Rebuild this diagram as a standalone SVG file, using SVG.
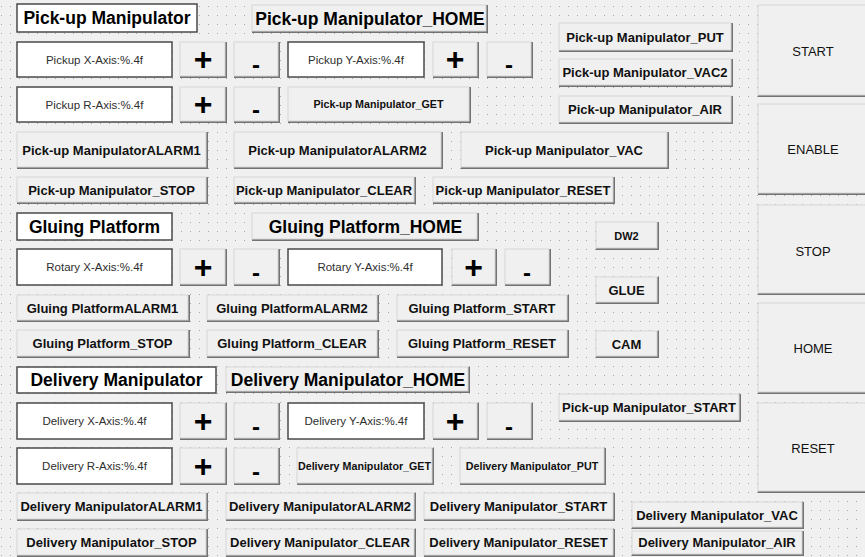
<svg xmlns="http://www.w3.org/2000/svg" width="865" height="557" viewBox="0 0 865 557">
<defs>
<pattern id="dots" x="1" y="6" width="9" height="9" patternUnits="userSpaceOnUse"><rect width="1" height="1" fill="#a8a8a8"/></pattern>
</defs>
<style>
.s{fill:#737373}
.f{fill:#f0f0f0;stroke:#d6d6d6;stroke-width:1}
.lb{fill:#fff;stroke:#4a4a4a;stroke-width:1.5}
.ed{fill:#fff;stroke:#4a4a4a;stroke-width:1.5}
text{font-family:"Liberation Sans",Arial,sans-serif;text-anchor:middle;fill:#000}
.t17{font-size:17.5px;font-weight:bold}
.t13{font-size:13px;font-weight:bold;fill:#111}
.t11{font-size:11px;font-weight:bold;fill:#111}
.tg{font-size:10.7px;font-weight:bold;fill:#111}
.te{font-size:11.5px;fill:#2e2e2e}
.tb{font-size:13px;fill:#111}
.tp{font-size:32px;font-weight:bold}
.tm{font-size:24px;font-weight:bold}
</style>
<rect width="865" height="557" fill="#f0f0f0"/>
<rect width="865" height="557" fill="url(#dots)"/>

<!-- Section labels -->
<g id="lbl_pickup"><rect class="lb" x="17" y="4" width="180" height="28"/><text class="t17" x="107" y="24">Pick-up Manipulator</text></g>
<g id="lbl_gluing"><rect class="lb" x="17" y="213" width="155" height="27"/><text class="t17" x="94.5" y="232.5">Gluing Platform</text></g>
<g id="lbl_delivery"><rect class="lb" x="17" y="367" width="199" height="26"/><text class="t17" x="116.5" y="386">Delivery Manipulator</text></g>

<!-- HOME buttons -->
<g id="btn_pick_home"><rect class="s" x="252" y="5" width="236" height="28"/><rect class="f" x="252" y="5" width="234" height="26"/><text class="t17" x="370" y="25">Pick-up Manipulator_HOME</text></g>
<g id="btn_glue_home"><rect class="s" x="252" y="213" width="227" height="28"/><rect class="f" x="252" y="213" width="225" height="26"/><text class="t17" x="365.5" y="233">Gluing Platform_HOME</text></g>
<g id="btn_del_home"><rect class="s" x="226" y="367" width="244" height="26"/><rect class="f" x="226" y="367" width="242" height="24"/><text class="t17" x="348" y="386">Delivery Manipulator_HOME</text></g>

<!-- Edit boxes -->
<g id="ed_pick_x"><rect class="ed" x="17" y="42" width="155" height="35"/><text class="te" x="94.5" y="63.5">Pickup X-Axis:%.4f</text></g>
<g id="ed_pick_y"><rect class="ed" x="288" y="42" width="136" height="35"/><text class="te" x="356" y="63.5">Pickup Y-Axis:%.4f</text></g>
<g id="ed_pick_r"><rect class="ed" x="17" y="87" width="155" height="35"/><text class="te" x="94.5" y="108.5">Pickup R-Axis:%.4f</text></g>
<g id="ed_rot_x"><rect class="ed" x="17" y="249" width="155" height="36"/><text class="te" x="94.5" y="271">Rotary X-Axis:%.4f</text></g>
<g id="ed_rot_y"><rect class="ed" x="288" y="249" width="154" height="36"/><text class="te" x="365" y="271">Rotary Y-Axis:%.4f</text></g>
<g id="ed_del_x"><rect class="ed" x="17" y="403" width="155" height="36"/><text class="te" x="94.5" y="425">Delivery X-Axis:%.4f</text></g>
<g id="ed_del_y"><rect class="ed" x="288" y="403" width="136" height="36"/><text class="te" x="356" y="425">Delivery Y-Axis:%.4f</text></g>
<g id="ed_del_r"><rect class="ed" x="17" y="448" width="155" height="36"/><text class="te" x="94.5" y="470">Delivery R-Axis:%.4f</text></g>

<!-- Plus / minus buttons -->
<g id="px1"><rect class="s" x="180" y="42" width="47" height="36"/><rect class="f" x="180" y="42" width="45" height="34"/><text class="tp" x="203" y="70">+</text></g>
<g id="mx1"><rect class="s" x="234" y="42" width="46" height="36"/><rect class="f" x="234" y="42" width="44" height="34"/><text class="tm" x="256" y="73">-</text></g>
<g id="py1"><rect class="s" x="433" y="42" width="46" height="36"/><rect class="f" x="433" y="42" width="44" height="34"/><text class="tp" x="455" y="70">+</text></g>
<g id="my1"><rect class="s" x="487" y="42" width="46" height="36"/><rect class="f" x="487" y="42" width="44" height="34"/><text class="tm" x="509" y="73">-</text></g>
<g id="pr1"><rect class="s" x="180" y="87" width="47" height="36"/><rect class="f" x="180" y="87" width="45" height="34"/><text class="tp" x="203" y="115">+</text></g>
<g id="mr1"><rect class="s" x="234" y="87" width="46" height="36"/><rect class="f" x="234" y="87" width="44" height="34"/><text class="tm" x="256" y="118">-</text></g>
<g id="px2"><rect class="s" x="180" y="249" width="47" height="37"/><rect class="f" x="180" y="249" width="45" height="35"/><text class="tp" x="203" y="277.5">+</text></g>
<g id="mx2"><rect class="s" x="234" y="249" width="46" height="37"/><rect class="f" x="234" y="249" width="44" height="35"/><text class="tm" x="256" y="280.5">-</text></g>
<g id="py2"><rect class="s" x="452" y="249" width="45" height="37"/><rect class="f" x="452" y="249" width="43" height="35"/><text class="tp" x="473.5" y="277.5">+</text></g>
<g id="my2"><rect class="s" x="505" y="249" width="46" height="37"/><rect class="f" x="505" y="249" width="44" height="35"/><text class="tm" x="527" y="280.5">-</text></g>
<g id="px3"><rect class="s" x="180" y="403" width="47" height="37"/><rect class="f" x="180" y="403" width="45" height="35"/><text class="tp" x="203" y="431.5">+</text></g>
<g id="mx3"><rect class="s" x="234" y="403" width="46" height="37"/><rect class="f" x="234" y="403" width="44" height="35"/><text class="tm" x="256" y="434.5">-</text></g>
<g id="py3"><rect class="s" x="433" y="403" width="46" height="37"/><rect class="f" x="433" y="403" width="44" height="35"/><text class="tp" x="455" y="431.5">+</text></g>
<g id="my3"><rect class="s" x="487" y="403" width="46" height="37"/><rect class="f" x="487" y="403" width="44" height="35"/><text class="tm" x="509" y="434.5">-</text></g>
<g id="pr3"><rect class="s" x="180" y="448" width="47" height="37"/><rect class="f" x="180" y="448" width="45" height="35"/><text class="tp" x="203" y="476.5">+</text></g>
<g id="mr3"><rect class="s" x="234" y="448" width="46" height="37"/><rect class="f" x="234" y="448" width="44" height="35"/><text class="tm" x="256" y="479.5">-</text></g>

<!-- GET / PUT small-text buttons -->
<g id="btn_pick_get"><rect class="s" x="288" y="87" width="183" height="36"/><rect class="f" x="288" y="87" width="181" height="34"/><text class="tg" x="378.5" y="108">Pick-up Manipulator_GET</text></g>
<g id="btn_del_get"><rect class="s" x="297" y="448" width="137" height="37"/><rect class="f" x="297" y="448" width="135" height="35"/><text class="tg" x="364.5" y="469.5">Delivery Manipulator_GET</text></g>
<g id="btn_del_put"><rect class="s" x="460" y="448" width="146" height="37"/><rect class="f" x="460" y="448" width="144" height="35"/><text class="tg" x="532" y="469.5">Delivery Manipulator_PUT</text></g>

<!-- Pick-up buttons -->
<g id="btn_pick_put"><rect class="s" x="559" y="23" width="174" height="29"/><rect class="f" x="559" y="23" width="172" height="27"/><text class="t13" x="645" y="41.5">Pick-up Manipulator_PUT</text></g>
<g id="btn_pick_vac2"><rect class="s" x="559" y="59" width="174" height="28"/><rect class="f" x="559" y="59" width="172" height="26"/><text class="t13" x="645" y="77">Pick-up Manipulator_VAC2</text></g>
<g id="btn_pick_air"><rect class="s" x="559" y="96" width="174" height="28"/><rect class="f" x="559" y="96" width="172" height="26"/><text class="t13" x="645" y="114">Pick-up Manipulator_AIR</text></g>
<g id="btn_pick_alarm1"><rect class="s" x="17" y="132" width="191" height="37"/><rect class="f" x="17" y="132" width="189" height="35"/><text class="t13" x="111.5" y="154.5">Pick-up ManipulatorALARM1</text></g>
<g id="btn_pick_alarm2"><rect class="s" x="234" y="132" width="209" height="37"/><rect class="f" x="234" y="132" width="207" height="35"/><text class="t13" x="337.5" y="154.5">Pick-up ManipulatorALARM2</text></g>
<g id="btn_pick_vac"><rect class="s" x="461" y="132" width="208" height="37"/><rect class="f" x="461" y="132" width="206" height="35"/><text class="t13" x="564" y="154.5">Pick-up Manipulator_VAC</text></g>
<g id="btn_pick_stop"><rect class="s" x="17" y="177" width="191" height="27"/><rect class="f" x="17" y="177" width="189" height="25"/><text class="t13" x="111.5" y="194.5">Pick-up Manipulator_STOP</text></g>
<g id="btn_pick_clear"><rect class="s" x="234" y="177" width="182" height="27"/><rect class="f" x="234" y="177" width="180" height="25"/><text class="t13" x="324" y="194.5">Pick-up Manipulator_CLEAR</text></g>
<g id="btn_pick_reset"><rect class="s" x="433" y="177" width="182" height="27"/><rect class="f" x="433" y="177" width="180" height="25"/><text class="t13" x="523" y="194.5">Pick-up Manipulator_RESET</text></g>

<!-- DW2 / GLUE / CAM -->
<g id="btn_dw2"><rect class="s" x="596" y="222" width="63" height="28"/><rect class="f" x="596" y="222" width="61" height="26"/><text class="t11" x="626.5" y="239.5">DW2</text></g>
<g id="btn_glue"><rect class="s" x="596" y="277" width="63" height="27"/><rect class="f" x="596" y="277" width="61" height="25"/><text class="t13" x="626.5" y="294.5">GLUE</text></g>
<g id="btn_cam"><rect class="s" x="596" y="331" width="63" height="27"/><rect class="f" x="596" y="331" width="61" height="25"/><text class="t13" x="626.5" y="348.5">CAM</text></g>

<!-- Gluing buttons -->
<g id="btn_glue_alarm1"><rect class="s" x="17" y="295" width="173" height="27"/><rect class="f" x="17" y="295" width="171" height="25"/><text class="t13" x="102.5" y="312.5">Gluing PlatformALARM1</text></g>
<g id="btn_glue_alarm2"><rect class="s" x="207" y="295" width="172" height="27"/><rect class="f" x="207" y="295" width="170" height="25"/><text class="t13" x="292" y="312.5">Gluing PlatformALARM2</text></g>
<g id="btn_glue_start"><rect class="s" x="397" y="295" width="172" height="27"/><rect class="f" x="397" y="295" width="170" height="25"/><text class="t13" x="482" y="312.5">Gluing Platform_START</text></g>
<g id="btn_glue_stop"><rect class="s" x="17" y="330" width="173" height="28"/><rect class="f" x="17" y="330" width="171" height="26"/><text class="t13" x="102.5" y="348">Gluing Platform_STOP</text></g>
<g id="btn_glue_clear"><rect class="s" x="207" y="330" width="172" height="28"/><rect class="f" x="207" y="330" width="170" height="26"/><text class="t13" x="292" y="348">Gluing Platform_CLEAR</text></g>
<g id="btn_glue_reset"><rect class="s" x="397" y="330" width="172" height="28"/><rect class="f" x="397" y="330" width="170" height="26"/><text class="t13" x="482" y="348">Gluing Platform_RESET</text></g>

<!-- Delivery buttons -->
<g id="btn_pick_start"><rect class="s" x="559" y="394" width="182" height="28"/><rect class="f" x="559" y="394" width="180" height="26"/><text class="t13" x="649" y="412">Pick-up Manipulator_START</text></g>
<g id="btn_del_alarm1"><rect class="s" x="17" y="493" width="191" height="28"/><rect class="f" x="17" y="493" width="189" height="26"/><text class="t13" x="111.5" y="511">Delivery ManipulatorALARM1</text></g>
<g id="btn_del_alarm2"><rect class="s" x="226" y="493" width="190" height="28"/><rect class="f" x="226" y="493" width="188" height="26"/><text class="t13" x="320" y="511">Delivery ManipulatorALARM2</text></g>
<g id="btn_del_start"><rect class="s" x="424" y="493" width="191" height="28"/><rect class="f" x="424" y="493" width="189" height="26"/><text class="t13" x="518.5" y="511">Delivery Manipulator_START</text></g>
<g id="btn_del_vac"><rect class="s" x="632" y="502" width="172" height="27"/><rect class="f" x="632" y="502" width="170" height="25"/><text class="t13" x="717" y="519.5">Delivery Manipulator_VAC</text></g>
<g id="btn_del_stop"><rect class="s" x="17" y="529" width="191" height="28"/><rect class="f" x="17" y="529" width="189" height="26"/><text class="t13" x="111.5" y="547">Delivery Manipulator_STOP</text></g>
<g id="btn_del_clear"><rect class="s" x="226" y="529" width="190" height="28"/><rect class="f" x="226" y="529" width="188" height="26"/><text class="t13" x="320" y="547">Delivery Manipulator_CLEAR</text></g>
<g id="btn_del_reset"><rect class="s" x="424" y="529" width="191" height="28"/><rect class="f" x="424" y="529" width="189" height="26"/><text class="t13" x="518.5" y="547">Delivery Manipulator_RESET</text></g>
<g id="btn_del_air"><rect class="s" x="632" y="531" width="172" height="25"/><rect class="f" x="632" y="531" width="170" height="23"/><text class="t13" x="717" y="547">Delivery Manipulator_AIR</text></g>

<!-- Big command buttons -->
<g id="btn_start"><rect class="s" x="758" y="5" width="112" height="92"/><rect class="f" x="758" y="5" width="110" height="90"/><text class="tb" x="813" y="55.5">START</text></g>
<g id="btn_enable"><rect class="s" x="758" y="104" width="112" height="91"/><rect class="f" x="758" y="104" width="110" height="89"/><text class="tb" x="813" y="154">ENABLE</text></g>
<g id="btn_stop"><rect class="s" x="758" y="205" width="112" height="90"/><rect class="f" x="758" y="205" width="110" height="88"/><text class="tb" x="813" y="256">STOP</text></g>
<g id="btn_home"><rect class="s" x="758" y="303" width="112" height="91"/><rect class="f" x="758" y="303" width="110" height="89"/><text class="tb" x="813" y="353">HOME</text></g>
<g id="btn_reset"><rect class="s" x="758" y="403" width="112" height="90"/><rect class="f" x="758" y="403" width="110" height="88"/><text class="tb" x="813" y="452.5">RESET</text></g>

<g id="connectors"></g>
</svg>
